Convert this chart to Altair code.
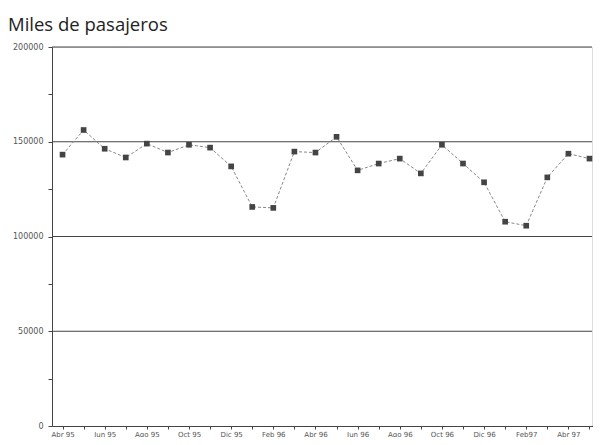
import altair as alt
import pandas as pd

months = ["Abr 95", "May 95", "Jun 95", "Jul 95", "Ago 95", "Sep 95", "Oct 95", "Nov 95",
          "Dic 95", "Ene 96", "Feb 96", "Mar 96", "Abr 96", "May 96", "Jun 96", "Jul 96",
          "Ago 96", "Sep 96", "Oct 96", "Nov 96", "Dic 96", "Ene 97", "Feb97", "Mar 97",
          "Abr 97", "May 97"]
passengers = [143200, 156200, 146300, 141700, 149000, 144300, 148400, 146900, 137000,
              115600, 115100, 144800, 144300, 152600, 134900, 138500, 141100, 133300,
              148400, 138500, 128600, 107800, 105700, 131200, 143700, 141100]
shown_labels = months[::2]
y_ticks = [0, 25000, 50000, 75000, 100000, 125000, 150000, 175000, 200000]
grid_values = [50000, 100000, 150000, 200000]

df = pd.DataFrame({"mes": months, "pasajeros": passengers})
grid_df = pd.DataFrame({"g": grid_values})

W, H = 540, 379
label_list = "[" + ",".join("'%s'" % s for s in shown_labels) + "]"

x = alt.X("mes:N", sort=months, title=None,
          scale=alt.Scale(paddingInner=0, paddingOuter=0, range=[0, 548]),
          axis=alt.Axis(bandPosition=0, labelAngle=0,
                        labelExpr="indexof(%s, datum.value) >= 0 ? datum.value : ''" % label_list,
                        labelFontSize=7, labelColor="#555", labelFont="DejaVu Sans",
                        tickSize=3, tickColor="#444", domainColor="#444", labelPadding=1,
                        grid=False))
y = alt.Y("pasajeros:Q", title=None,
          scale=alt.Scale(domain=[0, 200000]),
          axis=alt.Axis(values=y_ticks, format="d",
                        labelExpr="datum.value % 50000 == 0 ? datum.value : ''",
                        labelFontSize=8, labelColor="#555", labelFont="DejaVu Sans",
                        tickSize=4, tickColor="#444", domainColor="#444", labelPadding=5,
                        grid=False))

grid = alt.Chart(grid_df).mark_rule(color="#444", strokeWidth=1).encode(
    y=alt.Y("g:Q", scale=alt.Scale(domain=[0, 200000])))
line = alt.Chart(df).mark_line(color="#888", strokeWidth=1, strokeDash=[3, 2]).encode(x=x, y=y)
pts = alt.Chart(df).mark_point(shape="square", filled=True, color="#444", size=32, opacity=1).encode(x=x, y=y)

chart = (grid + line + pts).properties(
    width=W, height=H,
    title=alt.TitleParams("Miles de pasajeros", anchor="start", frame="group", dx=-44,
                          fontSize=18.5, fontWeight="normal", font="Open Sans", color="#222", offset=9),
    padding={"left": 44, "top": 39, "right": 1, "bottom": 11},
    autosize=alt.AutoSizeParams(type="none"),
).configure_view(stroke=None).configure(background="white")

chart.save("out.html", embed_options={"renderer": "svg", "actions": False})
